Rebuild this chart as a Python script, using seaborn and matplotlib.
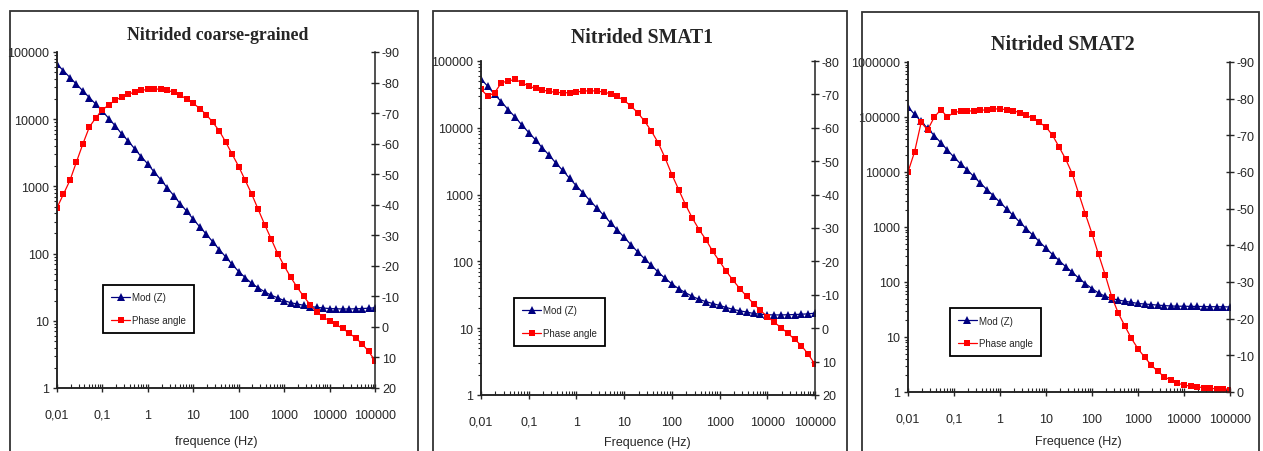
import matplotlib
matplotlib.use('Agg')
import matplotlib.pyplot as plt
from matplotlib.patches import Rectangle
from matplotlib.ticker import FixedLocator, LogLocator, NullFormatter, FuncFormatter
import seaborn as sns

# frequency grid: 7 points per decade, 0.01 Hz .. 100 kHz
MANTISSA = [1.0, 1.39, 1.93, 2.68, 3.73, 5.18, 7.20]
DECADES = [-2, -1, 0, 1, 2, 3, 4]
freq = [m * 10.0 ** d for d in DECADES for m in MANTISSA] + [1e5]

# Nitrided coarse-grained
mod_cg = [66000, 52500, 41700, 33100, 26300, 20900, 16600,
          13200, 10200, 7900, 6000, 4700, 3600, 2750,
          2150, 1620, 1260, 950, 730, 550, 425,
          325, 250, 195, 150, 115, 89, 69,
          54, 44, 36, 31, 27, 24, 22,
          20, 18.6, 17.8, 17, 16.3, 15.9, 15.5,
          15.2, 15.1, 15.0, 15.0, 15.1, 15.2, 15.4, 15.6]
phase_cg = [-39, -43.5, -48, -54, -60, -65.5, -68.5,
            -71, -72.8, -74.2, -75.3, -76.2, -76.9, -77.4,
            -77.8, -77.9, -77.8, -77.5, -76.8, -75.8, -74.6,
            -73.2, -71.5, -69.5, -67, -64.2, -60.5, -56.5,
            -52.5, -48, -43.5, -38.5, -33.5, -28.8, -24,
            -20, -16.3, -13, -10, -7.3, -5, -3.2,
            -2, -0.8, 0.5, 2, 3.6, 5.5, 8, 11]

# Nitrided SMAT1
mod_s1 = [53700, 41700, 31600, 24500, 18600, 14500, 11000,
          8500, 6600, 5000, 3900, 2950, 2300, 1750,
          1350, 1050, 810, 630, 490, 380, 295,
          230, 178, 138, 110, 87, 69, 56,
          46, 39, 34, 30, 27, 25, 23.4,
          21.9, 20.4, 19.1, 18.2, 17.4, 16.6, 16.2,
          15.9, 15.8, 15.8, 15.9, 16.0, 16.2, 16.4, 16.8]
phase_s1 = [-71.5, -69.5, -70.5, -73.5, -74.0, -74.5, -73.5,
            -72.5, -71.8, -71.3, -70.9, -70.6, -70.5, -70.5,
            -70.7, -71.0, -71.1, -71.0, -70.7, -70.2, -69.4,
            -68.2, -66.5, -64.5, -62, -59, -55.5, -51,
            -46, -41.5, -37, -33, -29.5, -26.5, -23,
            -20, -17, -14.3, -11.8, -9.5, -7.3, -5.3,
            -3.5, -1.8, -0.2, 1.5, 3.3, 5.2, 7.8, 10.8]

# Nitrided SMAT2
mod_s2 = [151000, 112000, 83000, 62000, 46000, 34000, 25000,
          18600, 14100, 11000, 8300, 6300, 4800, 3700,
          2800, 2140, 1620, 1230, 930, 710, 540,
          410, 316, 245, 190, 150, 117, 93,
          76, 63, 55, 50, 47, 44.7, 42.7,
          40.7, 39.8, 38.9, 38, 37.2, 36.7, 36.3,
          36.3, 36, 36, 35.8, 35.6, 35.5, 35.4, 35.2]
phase_s2 = [-60, -65.5, -73.5, -71.5, -75, -77, -75,
            -76.3, -76.5, -76.6, -76.7, -76.8, -77, -77.2,
            -77.2, -77, -76.7, -76.2, -75.5, -74.6, -73.5,
            -72.3, -70, -66.8, -63.5, -59.5, -54, -48.5,
            -43.2, -37.5, -32, -26, -21.5, -18, -14.6,
            -11.8, -9.5, -7.4, -5.6, -4.2, -3.2, -2.4,
            -1.9, -1.6, -1.4, -1.2, -1.0, -0.9, -0.7, -0.6]

titles = ['Nitrided coarse-grained', 'Nitrided SMAT1', 'Nitrided SMAT2']
xlabels = ['frequence (Hz)', 'Frequence (Hz)', 'Frequence (Hz)']
mods = [mod_cg, mod_s1, mod_s2]
phases = [phase_cg, phase_s1, phase_s2]
mod_top = [1e5, 1e5, 1e6]
phase_top = [-90, -80, -90]
phase_bottom = [20, 20, 0]
xtick_vals = [0.01, 0.1, 1, 10, 100, 1000, 10000, 100000]
xtick_labels = ['0,01', '0,1', '1', '10', '100', '1000', '10000', '100000']

# layout in pixels
W, H = 1263, 452
boxes = [(57, 53, 375, 389), (481, 62, 815, 396), (908, 63, 1230, 393)]
frames = [(10, 12, 418), (433, 12, 847), (862, 13, 1259)]
title_pos = [(218, 35), (642, 38), (1063, 45)]
title_size = [12.8, 14.2, 14.4]
xlabel_pos = [(216, 442), (647, 443), (1078, 442)]
legend_pos = [(0.145, 0.164), (0.099, 0.147), (0.130, 0.109)]

NAVY = '#000080'
RED = '#ff0000'

sns.set_style('ticks')
plt.rcParams['font.family'] = ['Liberation Sans', 'DejaVu Sans']
plt.rcParams['axes.unicode_minus'] = False

fig = plt.figure(figsize=(W / 100, H / 100), dpi=100)

for i in range(3):
    l, t, r, b = boxes[i]
    ax = fig.add_axes([l / W, 1 - b / H, (r - l) / W, (b - t) / H])
    ax.set_xscale('log')
    ax.set_yscale('log')
    sns.lineplot(x=freq, y=mods[i], ax=ax, color=NAVY, marker='^', markersize=5.5,
                 markeredgewidth=0, linewidth=0.9, label='Mod (Z)')
    ax.set_xlim(0.01, 1e5)
    ax.set_ylim(1, mod_top[i])

    ax2 = ax.twinx()
    sns.lineplot(x=freq, y=phases[i], ax=ax2, color=RED, marker='s', markersize=4.8,
                 markeredgewidth=0, linewidth=0.9, label='Phase angle')
    ax2.set_ylim(phase_bottom[i], phase_top[i])
    ax2.yaxis.set_major_locator(FixedLocator(range(phase_top[i], phase_bottom[i] + 1, 10)))
    ax2.yaxis.set_major_formatter(FuncFormatter(lambda v, p: '%d' % v))

    ax.xaxis.set_major_locator(FixedLocator(xtick_vals))
    ax.set_xticklabels(xtick_labels)
    ax.xaxis.set_minor_locator(LogLocator(base=10, subs=range(2, 10), numticks=20))
    ax.xaxis.set_minor_formatter(NullFormatter())
    ax.yaxis.set_major_formatter(FuncFormatter(lambda v, p: '%d' % round(v)))
    ax.yaxis.set_minor_formatter(NullFormatter())

    for a in (ax, ax2):
        a.spines['top'].set_visible(False)
        for s in a.spines.values():
            s.set_linewidth(1.1)
            s.set_color('#222222')
    ax.spines['right'].set_visible(False)

    ax.tick_params(axis='x', which='major', direction='inout', length=6, width=1,
                   labelsize=9, pad=12)
    ax.tick_params(axis='x', which='minor', direction='in', length=3, width=0.8)
    ax.tick_params(axis='y', which='major', direction='out', length=3, width=1,
                   labelsize=9, pad=3)
    ax.tick_params(axis='y', which='minor', direction='out', length=2, width=0.8)
    ax2.tick_params(axis='y', which='major', direction='inout', length=6, width=1,
                    labelsize=9, pad=2)

    h1, l1 = ax.get_legend_handles_labels()
    h2, l2 = ax2.get_legend_handles_labels()
    ax.get_legend().remove()
    ax2.get_legend().remove()
    leg = ax2.legend(h1 + h2, l1 + l2, loc='lower left', bbox_to_anchor=legend_pos[i],
                     borderaxespad=0, frameon=True, fancybox=False, edgecolor='black',
                     framealpha=1, fontsize=7, labelspacing=1.3, handlelength=2,
                     handletextpad=0.2, borderpad=0.8)
    leg.get_frame().set_linewidth(1.3)

    fig.text(title_pos[i][0] / W, 1 - title_pos[i][1] / H, titles[i],
             ha='center', va='center', fontsize=title_size[i], fontweight='bold',
             family=['Liberation Serif', 'DejaVu Serif'])
    fig.text(xlabel_pos[i][0] / W, 1 - xlabel_pos[i][1] / H, xlabels[i],
             ha='center', va='center', fontsize=9)

    fl, ft, fr = frames[i]
    fig.add_artist(Rectangle((fl / W, -0.1), (fr - fl) / W, 1 - ft / H + 0.1,
                             transform=fig.transFigure, fill=False,
                             edgecolor='#333333', linewidth=1.3, clip_on=False))

fig.savefig('out.png', dpi=100)
